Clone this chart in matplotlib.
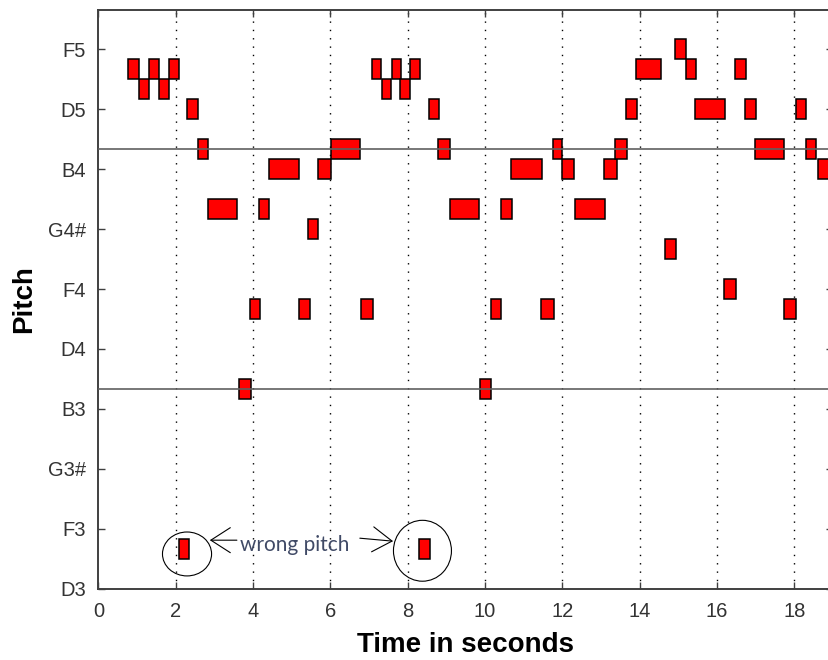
import numpy as np
import matplotlib
matplotlib.use('Agg')
from matplotlib import pyplot as plt
from matplotlib.patches import Ellipse

onsets = [0.76, 1.04, 1.30, 1.56, 1.83, 2.09, 2.29, 2.57, 2.82, 3.64, 3.91, 4.14, 4.41,
          5.19, 5.43, 5.68, 6.02, 6.80, 7.07, 7.34, 7.60, 7.81, 8.05, 8.29, 8.55, 8.78,
          9.09, 9.87, 10.15, 10.41, 10.67, 11.45, 11.76, 11.98, 12.33, 13.08, 13.37,
          13.64, 13.91, 14.65, 14.92, 15.19, 15.44, 16.18, 16.46, 16.72, 16.98, 17.72,
          18.03, 18.29, 18.60]
offsets = [1.04, 1.30, 1.56, 1.83, 2.08, 2.35, 2.57, 2.82, 3.58, 3.94, 4.17, 4.41, 5.19,
           5.48, 5.69, 6.02, 6.77, 7.10, 7.30, 7.57, 7.83, 8.06, 8.32, 8.58, 8.80, 9.10,
           9.85, 10.16, 10.42, 10.69, 11.47, 11.78, 12.00, 12.30, 13.10, 13.40, 13.66,
           13.93, 14.54, 14.94, 15.19, 15.46, 16.20, 16.48, 16.74, 17.00, 17.74, 18.05,
           18.31, 18.57, 19.00]
pitches = [76, 75, 76, 75, 76, 52, 74, 72, 69, 60, 64, 69, 71,
           64, 68, 71, 72, 64, 76, 75, 76, 75, 76, 52, 74, 72,
           69, 60, 64, 69, 71, 64, 72, 71, 69, 71, 72,
           74, 76, 67, 77, 76, 74, 65, 76, 74, 72, 64,
           74, 72, 71]

ytick_vals = [50, 53, 56, 59, 62, 65, 68, 71, 74, 77]
ytick_names = ['D3', 'F3', 'G3#', 'B3', 'D4', 'F4', 'G4#', 'B4', 'D5', 'F5']
xtick_vals = [0, 2, 4, 6, 8, 10, 12, 14, 16, 18]
octave_lines = [60, 72]

plt.rcParams['font.family'] = ['Liberation Sans', 'DejaVu Sans']

fig = plt.figure(figsize=(8.29, 6.6), dpi=100)
ax = fig.add_axes([98.5/829, (660-588.5)/660, (833-98.5)/829, (588.5-9.5)/660])

onsets = np.array(onsets)
offsets = np.array(offsets)
pitches = np.array(pitches)

for xv in xtick_vals[1:]:
    ax.axvline(xv, color='black', lw=1.0, ls=(0, (1, 5)), zorder=1)

ax.bar(onsets, 1.0, width=offsets-onsets, bottom=pitches-0.5, align='edge',
       facecolor='#ff0000', edgecolor='black', lw=1.1, zorder=2)

for yv in octave_lines:
    ax.axhline(yv, color='#606060', lw=1.2, zorder=3)

ax.set_xlim(0, 19)
ax.set_ylim(50, 79)
ax.set_xticks(xtick_vals)
ax.set_yticks(ytick_vals)
ax.set_yticklabels(ytick_names)
ax.tick_params(direction='in', length=5, width=1.0, color='#404040', labelcolor='#333333',
               labelsize=14.5, top=True, right=True)
ax.tick_params(axis='x', pad=9.5)
ax.tick_params(axis='y', pad=9)
for s in ax.spines.values():
    s.set_color('#404040')
    s.set_linewidth(1.4)

ax.set_xlabel('Time in seconds', fontsize=20, fontweight='bold', labelpad=8)
ax.set_ylabel('Pitch', fontsize=20, fontweight='bold', labelpad=8)

# hand drawn "wrong pitch" marks
ax.add_patch(Ellipse((2.29, 51.73), 1.27, 2.2, fill=False, ec='black', lw=0.8, zorder=4))
ax.add_patch(Ellipse((8.38, 51.89), 1.5, 3.05, fill=False, ec='black', lw=0.8, zorder=4))
ax.text(5.08, 52.2, 'wrong pitch', family=['Lato', 'DejaVu Sans'], fontsize=15,
        color='#404a66', ha='center', va='center', zorder=4)
arrow = dict(arrowstyle='->,head_length=1.4,head_width=0.9', lw=0.8, color='black',
             shrinkA=0, shrinkB=0)
ax.annotate('', xy=(2.88, 52.42), xytext=(3.58, 52.42), arrowprops=arrow, zorder=4)
ax.annotate('', xy=(7.62, 52.37), xytext=(6.76, 52.52), arrowprops=arrow, zorder=4)

fig.savefig('out.png', dpi=100)
